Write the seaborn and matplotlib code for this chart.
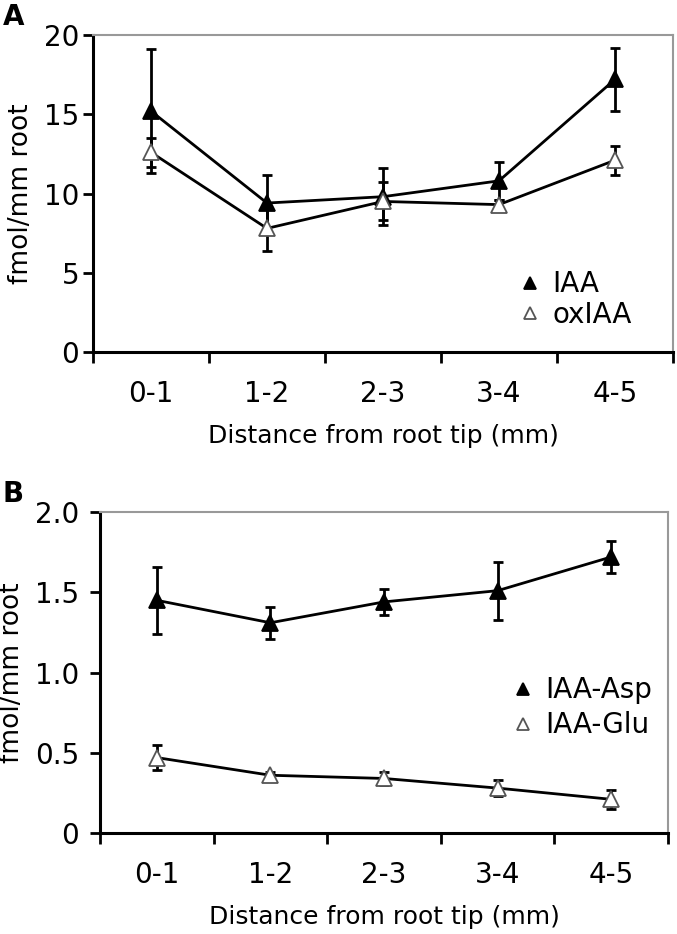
import matplotlib
matplotlib.use("Agg")
import matplotlib.pyplot as plt
from matplotlib.lines import Line2D
import numpy as np
import pandas as pd
import seaborn as sns

# %% data
distances = ["0-1", "1-2", "2-3", "3-4", "4-5"]

iaa = [15.2, 9.4, 9.8, 10.8, 17.2]
iaa_err = [3.9, 1.8, 1.8, 1.2, 2.0]
oxiaa = [12.6, 7.8, 9.5, 9.3, 12.1]
oxiaa_err = [0.9, 1.4, 1.2, 0.3, 0.9]

asp = [1.45, 1.31, 1.44, 1.51, 1.72]
asp_err = [0.21, 0.10, 0.08, 0.18, 0.10]
glu = [0.47, 0.36, 0.34, 0.28, 0.21]
glu_err = [0.08, 0.02, 0.04, 0.05, 0.06]

# %%
sns.set_style("white")
plt.rcParams["font.family"] = ["DejaVu Sans"]
plt.rcParams["text.color"] = "black"
plt.rcParams["axes.labelcolor"] = "black"
plt.rcParams["xtick.color"] = "black"
plt.rcParams["ytick.color"] = "black"

STYLE = {
    "filled": dict(marker="^", mfc="black", mec="black"),
    "open": dict(marker="^", mfc="white", mec="#555555"),
}


def draw_panel(ax, series, ylim, yticks, yticklabels, legend_anchor, ypad, lspace):
    rows = []
    for name, vals, errs, kind in series:
        for d, v, e in zip(distances, vals, errs):
            rows.append({"distance": d, "value": v, "err": e, "series": name, "kind": kind})
    df = pd.DataFrame(rows)

    handles = []
    for name, vals, errs, kind in series:
        sub = df[df.series == name]
        sns.lineplot(data=sub, x="distance", y="value", ax=ax, color="black",
                     lw=2, legend=False, sort=False, zorder=2)
        ax.errorbar(sub.distance, sub.value, yerr=sub.err, fmt="none",
                    ecolor="black", elinewidth=2, capsize=3.5, capthick=2, zorder=3)
        ax.plot(sub.distance, sub.value, ls="none", ms=11, mew=1.3, zorder=4,
                **STYLE[kind])
        handles.append(Line2D([], [], ls="none", ms=9, mew=1.3, label=name,
                              **STYLE[kind]))

    ax.set_xlim(-0.5, len(distances) - 0.5)
    ax.set_ylim(*ylim)
    ax.set_yticks(yticks)
    ax.set_yticklabels(yticklabels, fontsize=20)
    ax.set_xticks(range(len(distances)))
    ax.set_xticklabels(distances, fontsize=20)
    ax.set_xticks(np.arange(-0.5, len(distances)), minor=True)
    ax.tick_params(axis="x", which="major", length=0, pad=20, bottom=True)
    ax.tick_params(axis="x", which="minor", length=8, width=2, direction="out",
                   bottom=True)
    ax.tick_params(axis="y", length=7, width=2, direction="out", left=True,
                   pad=ypad)
    ax.set_xlabel("Distance from root tip (mm)", fontsize=18, labelpad=12)
    ax.set_ylabel("fmol/mm root", fontsize=19, labelpad=7)
    for side in ["left", "bottom"]:
        ax.spines[side].set_color("black")
        ax.spines[side].set_linewidth(2.2)
    for side in ["top", "right"]:
        ax.spines[side].set_color("#999999")
        ax.spines[side].set_linewidth(1.5)
    ax.legend(handles=handles, loc="center left", bbox_to_anchor=legend_anchor,
              frameon=False, handlelength=0.8, handletextpad=0.4,
              labelspacing=lspace, fontsize=20, borderaxespad=0, borderpad=0)


fig = plt.figure(figsize=(6.77, 9.34), dpi=100)
ax_a = fig.add_axes([0.1374, 0.6231, 0.8566, 0.3394])
ax_b = fig.add_axes([0.1477, 0.1081, 0.8390, 0.3437])

draw_panel(ax_a, [("IAA", iaa, iaa_err, "filled"), ("oxIAA", oxiaa, oxiaa_err, "open")],
           (0, 20), [0, 5, 10, 15, 20], ["0", "5", "10", "15", "20"], (0.735, 0.166), 3, 0.08)
draw_panel(ax_b, [("IAA-Asp", asp, asp_err, "filled"), ("IAA-Glu", glu, glu_err, "open")],
           (0, 2.0), [0, 0.5, 1.0, 1.5, 2.0], ["0", "0.5", "1.0", "1.5", "2.0"], (0.725, 0.39), 8, 0.25)

fig.text(0.004, 0.9732, "A", fontsize=20, fontweight="bold", va="baseline")
fig.text(0.004, 0.4625, "B", fontsize=20, fontweight="bold", va="baseline")

fig.savefig("out.png", dpi=100)
